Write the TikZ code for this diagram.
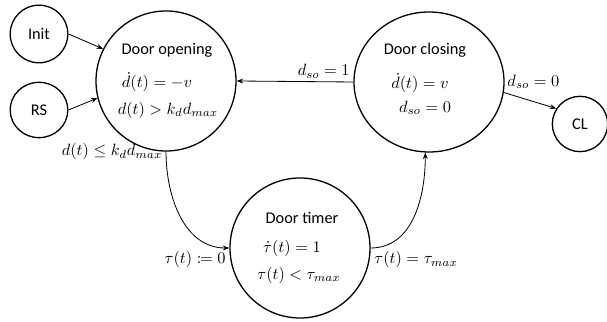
\documentclass[tikz,border=0pt]{standalone}
\usepackage{mathtools}
\usepackage[no-math]{fontspec}
\setmainfont{Carlito}
\usetikzlibrary{arrows.meta,shapes.geometric}
\begin{document}
\begin{tikzpicture}[x=0.215mm, y=0.215mm,
    bigstate/.style={draw, ellipse, line width=0.8pt, inner sep=0pt,
        minimum width=30.1mm, minimum height=30.1mm},
    smallstate/.style={draw, ellipse, line width=0.8pt, inner sep=0pt,
        minimum width=12.4mm, minimum height=12.4mm},
    eqtext/.style={inner sep=0.5pt},
    conn/.style={line width=0.5pt, -{Stealth[length=4pt, width=3pt]}},
    lbl/.style={inner sep=2pt}]
    \useasboundingbox (0,0) rectangle (607,322);
    \node[smallstate] (init) at (39,288) {Init};
    \node[smallstate, minimum height=11.9mm] (rs) at (39,212) {RS};
    \node[bigstate] (opening) at (166,241) {};
    \node[bigstate, minimum width=32.25mm] (closing) at (429,240) {};
    \node[bigstate] (timer) at (300,74) {};
    \node[smallstate, minimum width=11.9mm, minimum height=11.9mm] (cl) at (580,198) {CL};
    \node[eqtext] (openingname) at (167,272) {Door opening};
    \node[eqtext] (openingrate) at (157,240) {$\dot{d}(t)=-v$};
    \node[eqtext] (openinginv) at (168,212) {$d(t)>k_d d_{max}$};
    \node[eqtext] (closingname) at (425,272) {Door closing};
    \node[eqtext] (closingrate) at (420,239) {$\dot{d}(t)=v$};
    \node[eqtext] (closinginv) at (425,214) {$d_{so}=0$};
    \node[eqtext] (timername) at (302,104) {Door timer};
    \node[eqtext] (timerrate) at (292,74) {$\dot{\tau}(t)=1$};
    \node[eqtext] (timerinv) at (299,47) {$\tau(t)<\tau_{max}$};
    \draw[conn] (init.east) -- (opening.153);
    \draw[conn] (rs.east) -- (opening.194);
    \draw[conn] (closing.west) -- node[lbl, pos=0, above left] (reopen) {$d_{so}=1$} (opening.east);
    \draw[conn] (closing.-8) -- node[lbl, pos=0, above right] (closed) {$d_{so}=0$} (cl.147);
    \draw[conn] (opening.south) to[out=-90, in=180]
        node[lbl, pos=0, left] (opened) {$d(t)\le k_d d_{max}$}
        node[lbl, pos=1, below left] (reset) {$\tau(t)\coloneqq 0$} (timer.west);
    \draw[conn] (timer.east) to[out=0, in=-90]
        node[lbl, pos=0, below right] (timeout) {$\tau(t)=\tau_{max}$} (closing.-93);
\end{tikzpicture}
\end{document}
